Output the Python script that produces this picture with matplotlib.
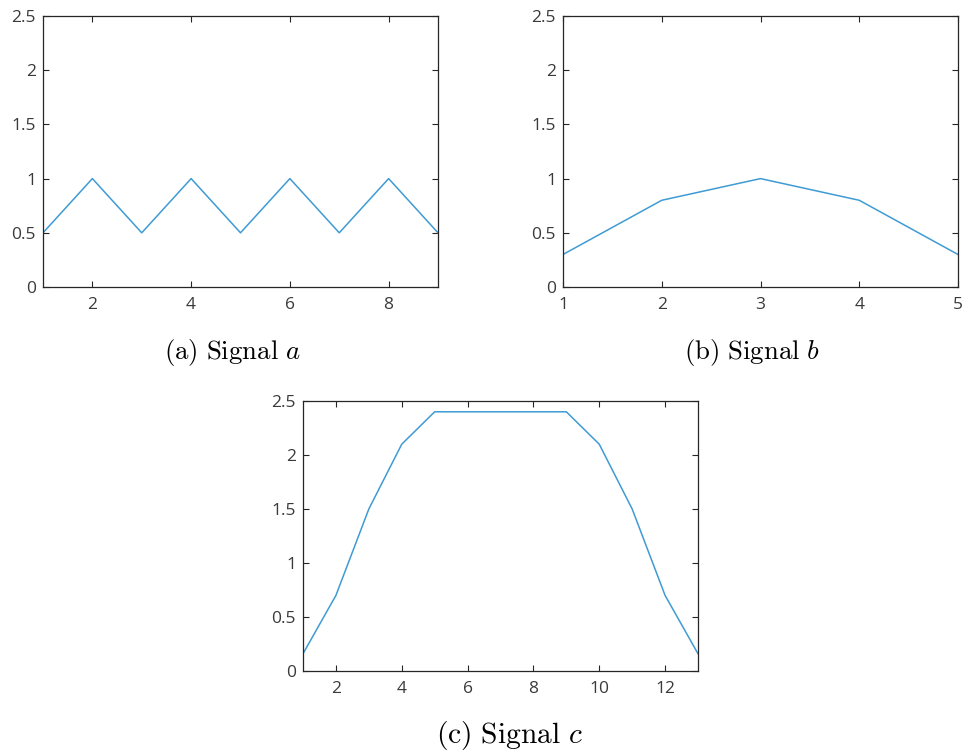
import matplotlib
matplotlib.use("Agg")
import matplotlib.pyplot as plt
from matplotlib.ticker import FuncFormatter

# Signal samples
x_a = [1, 2, 3, 4, 5, 6, 7, 8, 9]
y_a = [0.5, 1.0, 0.5, 1.0, 0.5, 1.0, 0.5, 1.0, 0.5]

x_b = [1, 2, 3, 4, 5]
y_b = [0.3, 0.8, 1.0, 0.8, 0.3]

x_c = [1, 2, 3, 4, 5, 6, 7, 8, 9, 10, 11, 12, 13]
y_c = [0.16, 0.7, 1.5, 2.1, 2.4, 2.4, 2.4, 2.4, 2.4, 2.1, 1.5, 0.7, 0.16]

xticks_a = [2, 4, 6, 8]
xticks_b = [1, 2, 3, 4, 5]
xticks_c = [2, 4, 6, 8, 10, 12]
yticks = [0, 0.5, 1, 1.5, 2, 2.5]

captions = [r"$\mathrm{(a)\ Signal}\ a$",
            r"$\mathrm{(b)\ Signal}\ b$",
            r"$\mathrm{(c)\ Signal}\ c$"]

plt.rcParams["mathtext.fontset"] = "cm"
plt.rcParams["font.family"] = ["Open Sans", "DejaVu Sans"]

W, H = 965, 755
fig = plt.figure(figsize=(W / 100, H / 100), dpi=100)

LINE_COLOR = "#3f9bd3"
AX_COLOR = "#262626"
LABEL_COLOR = "#3a3a3a"


def rect(l, t, r, b):
    return [l / W, 1 - b / H, (r - l) / W, (b - t) / H]


def fmt(v, _):
    return f"{v:g}"


def panel(box, xs, ys, xticks):
    ax = fig.add_axes(rect(*box))
    ax.plot(xs, ys, color=LINE_COLOR, lw=1.1)
    ax.set_xlim(xs[0], xs[-1])
    ax.set_ylim(0, 2.5)
    ax.set_xticks(xticks)
    ax.set_yticks(yticks)
    ax.yaxis.set_major_formatter(FuncFormatter(fmt))
    ax.tick_params(direction="in", length=4, width=0.8, top=True, right=True,
                   colors=AX_COLOR, labelsize=12.5, labelcolor=LABEL_COLOR)
    ax.tick_params(axis="x", pad=7)
    ax.tick_params(axis="y", pad=5)
    for s in ax.spines.values():
        s.set_color(AX_COLOR)
        s.set_linewidth(0.9)
    return ax


panel((43, 16, 438, 287), x_a, y_a, xticks_a)
panel((563, 16, 958, 287), x_b, y_b, xticks_b)
panel((303, 401, 698, 671), x_c, y_c, xticks_c)

caption_specs = [((232, 352), 19.3), ((752, 352), 19.3), ((509, 736), 21.3)]
for ((cx, cy), size), txt in zip(caption_specs, captions):
    fig.text(cx / W, 1 - cy / H, txt, ha="center", va="center",
             fontsize=size, color="black")

fig.savefig("out.png", dpi=100)
